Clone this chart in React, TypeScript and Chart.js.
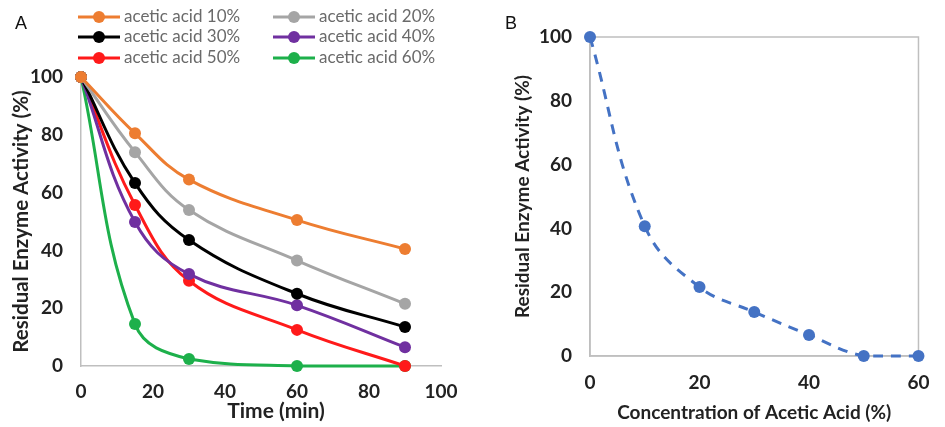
import React, { useEffect, useRef } from "react";
import { Chart, registerables } from "chart.js";

Chart.register(...registerables);

// ---------- Data ----------
const timeMin = [0, 15, 30, 60, 90];
const acid10 = [100, 80.5, 64.5, 50.5, 40.5];
const acid20 = [100, 74, 54, 36.5, 21.5];
const acid30 = [100, 63.3, 43.6, 25, 13.5];
const acid40 = [100, 49.8, 31.8, 21, 6.5];
const acid50 = [100, 55.7, 29.5, 12.5, 0];
const acid60 = [100, 14.5, 2.4, 0, 0];
const seriesLabels = [
  "acetic acid 10%",
  "acetic acid 20%",
  "acetic acid 30%",
  "acetic acid 40%",
  "acetic acid 50%",
  "acetic acid 60%",
];
const seriesColors = ["#ED7D31", "#A5A5A5", "#000000", "#7030A0", "#FF1A1A", "#1DB04B"];

const concentration = [0, 10, 20, 30, 40, 50, 60];
const residualActivity = [100, 40.7, 21.6, 13.8, 6.6, 0, 0];

const FONT = "Lato, 'Open Sans', sans-serif";
const AXIS_COLOR = "#BFBFBF";
const TEXT_COLOR = "#222222";

const legendPlugin = {
  id: "lineDotLegend",
  afterDraw(chart: any) {
    const ctx = chart.ctx;
    const colX = [78, 273];
    const rowY = [17, 37, 58];
    ctx.save();
    chart.data.datasets.forEach((ds: any, i: number) => {
      const x0 = colX[i % 2];
      const y = rowY[Math.floor(i / 2)];
      ctx.strokeStyle = ds.borderColor;
      ctx.lineWidth = 3;
      ctx.beginPath();
      ctx.moveTo(x0, y);
      ctx.lineTo(x0 + 42, y);
      ctx.stroke();
      ctx.fillStyle = ds.borderColor;
      ctx.beginPath();
      ctx.arc(x0 + 21, y, 6, 0, Math.PI * 2);
      ctx.fill();
      ctx.fillStyle = "#6A6A6A";
      ctx.font = `17px ${FONT}`;
      ctx.textBaseline = "middle";
      ctx.textAlign = "left";
      ctx.fillText(ds.label, x0 + 46, y);
    });
    // x-axis title (offset to the right, as in the original)
    ctx.fillStyle = TEXT_COLOR;
    ctx.font = `bold 21px ${FONT}`;
    ctx.textAlign = "center";
    ctx.textBaseline = "middle";
    const xs = chart.scales.x;
    ctx.fillText("Time (min)", (xs.left + xs.right) / 2 + 15, 411.5);
    ctx.restore();
  },
};

const framePlugin = {
  id: "frame",
  beforeDatasetsDraw(chart: any) {
    const { ctx, chartArea } = chart;
    ctx.save();
    ctx.strokeStyle = AXIS_COLOR;
    ctx.lineWidth = 1.5;
    ctx.strokeRect(chartArea.left, chartArea.top, chartArea.right - chartArea.left, chartArea.bottom - chartArea.top);
    ctx.restore();
  },
};

function toPoints(xs: number[], ys: number[]) {
  return xs.map((x, i) => ({ x, y: ys[i] }));
}

function PanelA() {
  const ref = useRef<HTMLCanvasElement>(null);
  useEffect(() => {
    const seriesValues = [acid10, acid20, acid30, acid40, acid50, acid60];
    const chart = new Chart(ref.current!, {
      type: "line",
      data: {
        datasets: seriesValues.map((vals, i) => ({
          label: seriesLabels[i],
          data: toPoints(timeMin, vals),
          borderColor: seriesColors[i],
          backgroundColor: seriesColors[i],
          pointBackgroundColor: seriesColors[i],
          pointBorderWidth: 0,
          pointRadius: 6,
          borderWidth: 3,
          tension: 0.4,
          clip: false,
        })),
      },
      options: {
        responsive: false,
        animation: false,
        layout: { padding: { left: 0, right: 34, top: 77, bottom: 0 } },
        plugins: { legend: { display: false }, tooltip: { enabled: false } },
        scales: {
          x: {
            type: "linear",
            min: 0,
            max: 100,
            grid: { display: false, drawTicks: false },
            border: { display: true, color: AXIS_COLOR, width: 1.5 },
            ticks: { stepSize: 20, padding: 14.5, color: TEXT_COLOR, font: { family: FONT, size: 19, weight: "bold" }, maxRotation: 0 },
            title: { display: false },
            afterFit: (s: any) => { s.height = 61; },
          },
          y: {
            min: 0,
            max: 100,
            grid: { display: false, drawTicks: false },
            border: { display: true, color: AXIS_COLOR, width: 1.5 },
            ticks: { stepSize: 20, padding: 18, color: TEXT_COLOR, font: { family: FONT, size: 19, weight: "bold" } },
            title: { display: true, text: "Residual Enzyme Activity (%)", color: TEXT_COLOR, font: { family: FONT, size: 20.5, weight: "bold" }, padding: { top: 9.5, bottom: 0 } },
            afterFit: (s: any) => { s.width = 81; },
          },
        },
      } as any,
      plugins: [legendPlugin],
    });
    return () => chart.destroy();
  }, []);
  return <canvas ref={ref} width={475} height={427} style={{ position: "absolute", left: 0, top: 0 }} />;
}

function PanelB() {
  const ref = useRef<HTMLCanvasElement>(null);
  useEffect(() => {
    const chart = new Chart(ref.current!, {
      type: "line",
      data: {
        datasets: [
          {
            label: "Residual Enzyme Activity",
            data: toPoints(concentration, residualActivity),
            borderColor: "#4472C4",
            backgroundColor: "#4472C4",
            pointBackgroundColor: "#4472C4",
            pointBorderWidth: 0,
            pointRadius: 6,
            borderWidth: 3,
            borderDash: [10, 8],
            tension: 0.4,
            clip: false,
          },
        ],
      },
      options: {
        responsive: false,
        animation: false,
        layout: { padding: { left: 0, right: 14, top: 37, bottom: 0 } },
        plugins: { legend: { display: false }, tooltip: { enabled: false } },
        scales: {
          x: {
            type: "linear",
            min: 0,
            max: 60,
            grid: { display: false, drawTicks: false },
            border: { display: true, color: AXIS_COLOR, width: 1.5 },
            ticks: { stepSize: 20, padding: 15.5, color: TEXT_COLOR, font: { family: FONT, size: 19, weight: "bold" }, maxRotation: 0 },
            title: { display: true, text: "Concentration of Acetic Acid (%)", color: TEXT_COLOR, font: { family: FONT, size: 19, weight: "bold" }, padding: { top: 0, bottom: 2.5 } },
            afterFit: (s: any) => { s.height = 71; },
          },
          y: {
            min: 0,
            max: 100,
            grid: { display: false, drawTicks: false },
            border: { display: true, color: AXIS_COLOR, width: 1.5 },
            ticks: { stepSize: 20, padding: 18, color: TEXT_COLOR, font: { family: FONT, size: 19, weight: "bold" } },
            title: { display: true, text: "Residual Enzyme Activity (%)", color: TEXT_COLOR, font: { family: FONT, size: 19, weight: "bold" }, padding: { top: 36.5, bottom: 0 } },
            afterFit: (s: any) => { s.width = 115; },
          },
        },
      } as any,
      plugins: [framePlugin],
    });
    return () => chart.destroy();
  }, []);
  return <canvas ref={ref} width={470} height={427} style={{ position: "absolute", left: 475, top: 0 }} />;
}

export default function App() {
  const labelStyle: React.CSSProperties = {
    position: "absolute",
    top: 13,
    fontFamily: "Arial, 'Liberation Sans', sans-serif",
    fontSize: 18,
    color: "#111",
    lineHeight: "20px",
  };
  return (
    <div style={{ position: "absolute", left: 0, top: 0, width: 945, height: 427, background: "#fff", overflow: "hidden" }}>
      <PanelA />
      <PanelB />
      <div style={{ ...labelStyle, left: 15 }}>A</div>
      <div style={{ ...labelStyle, left: 505 }}>B</div>
    </div>
  );
}
